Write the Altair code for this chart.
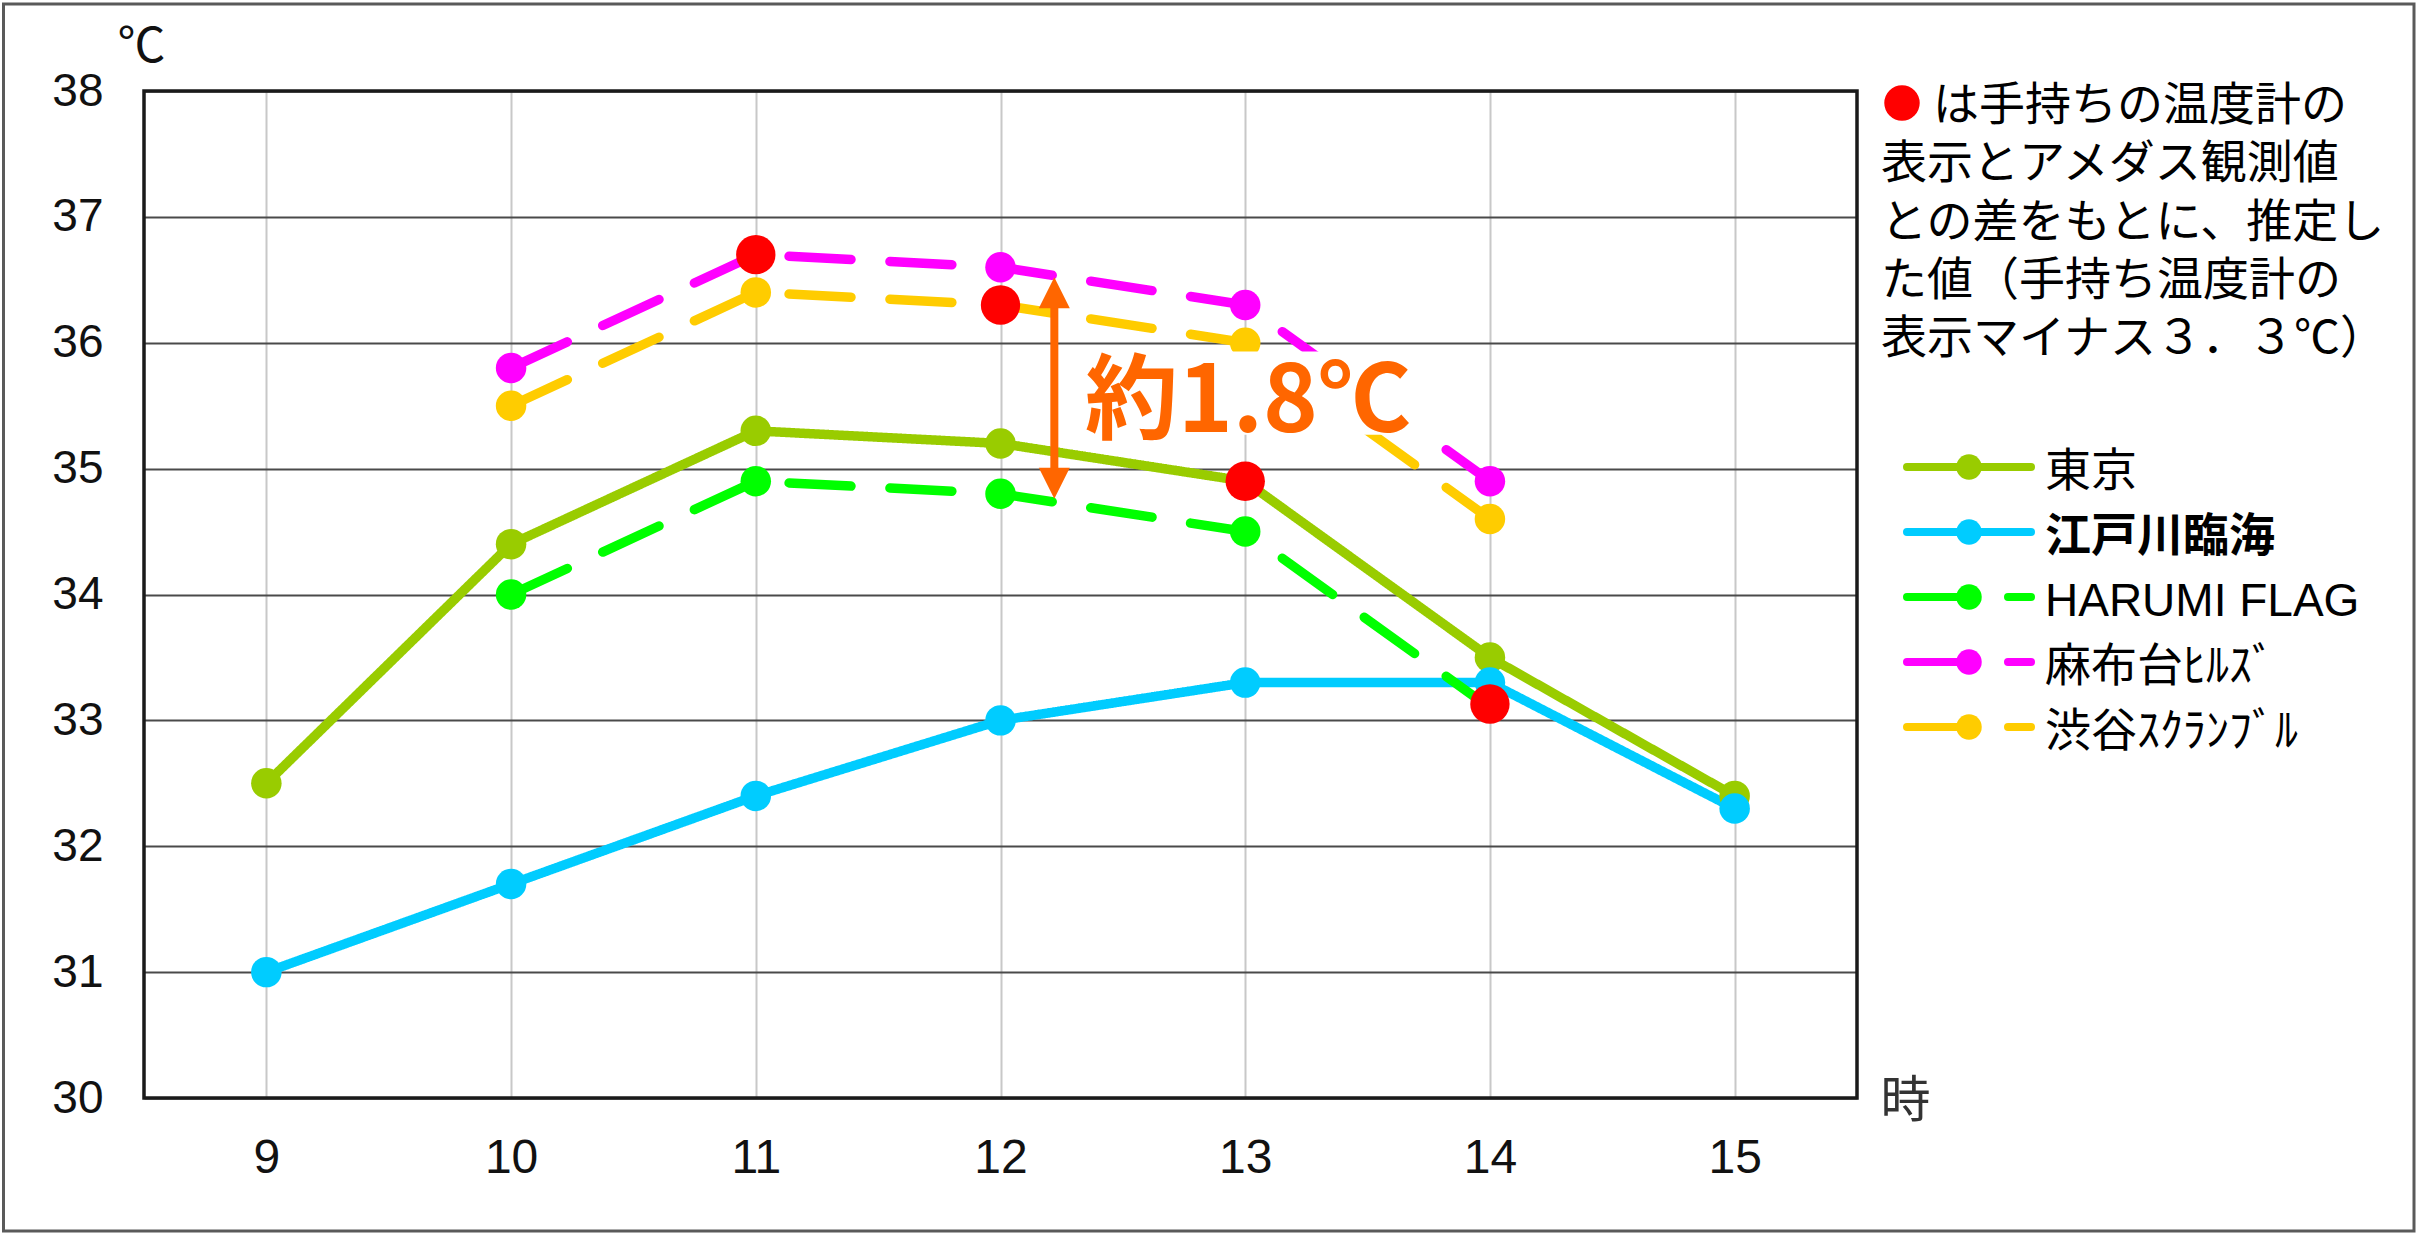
import altair as alt
import pandas as pd

# ---------------- data ----------------
hours = [9, 10, 11, 12, 13, 14, 15]
series_names = ["東京", "江戸川臨海", "HARUMI FLAG", "麻布台ﾋﾙｽﾞ", "渋谷ｽｸﾗﾝﾌﾞﾙ"]
series_colors = ["#99CC00", "#00CCFF", "#00FF00", "#FF00FF", "#FFCC00"]
series_dashes = [[1, 0], [1, 0], [62, 39], [62, 39], [62, 39]]
series_bold = [False, True, False, False, False]
tokyo = [32.5, 34.4, 35.3, 35.2, 34.9, 33.5, 32.4]
edogawa = [31.0, 31.7, 32.4, 33.0, 33.3, 33.3, 32.3]
harumi = [None, 34.0, 34.9, 34.8, 34.5, 33.1, None]
azabudai = [None, 35.8, 36.7, 36.6, 36.3, 34.9, None]
shibuya = [None, 35.5, 36.4, 36.3, 36.0, 34.6, None]

est_hours = [11, 12, 13, 14]
est_values = [36.7, 36.3, 34.9, 33.13]

y_ticks = [30, 31, 32, 33, 34, 35, 36, 37, 38]
x_grid = [9, 9.5, 10, 10.5, 11, 11.5, 12, 12.5, 13, 13.5, 14, 14.5, 15]
x_domain = [8.5, 15.5]
y_domain = [30, 38]

diff_label = ["約1.8℃"]
arrow_hour = [12.22]
arrow_top = [36.52]
arrow_bottom = [34.76]
label_hour = [12.345]
label_value = [35.29]
box_hours = [12.325, 13.745]
box_values = [35.27, 35.93]

note_lines = [
    "は手持ちの温度計の",
    "表示とアメダス観測値",
    "との差をもとに、推定し",
    "た値（手持ち温度計の",
    "表示マイナス３．３℃）",
]

# ---------------- layout / style ----------------
W, H = 1713, 1007
ORANGE = "#FF6600"
CJK = "Noto Sans CJK JP"
LAT = "Liberation Sans"
MIX = "Liberation Sans, Noto Sans CJK JP"
LW = 9.5

rows = []
for name, vals in zip(series_names, [tokyo, edogawa, harumi, azabudai, shibuya]):
    for h, v in zip(hours, vals):
        if v is not None:
            rows.append({"series": name, "hour": h, "temp": v})
df = pd.DataFrame(rows)
est_df = pd.DataFrame({"hour": est_hours, "temp": est_values})

color_scale = alt.Scale(domain=series_names, range=series_colors)
dash_scale = alt.Scale(domain=series_names, range=series_dashes)
xs = alt.Scale(domain=x_domain, nice=False, zero=False)
ys = alt.Scale(domain=y_domain, nice=False, zero=False)

x_axis = alt.Axis(
    values=x_grid, format="d",
    labelExpr="datum.value % 1 == 0 ? datum.label : ''",
    grid=True, gridColor="#c8c8c8", gridWidth=2,
    domain=False, ticks=False, tickSize=0,
    labelFont=LAT, labelFontSize=48, labelColor="#111",
    labelPadding=74, labelBaseline="alphabetic",
    labelFlush=False, labelOverlap=False,
    title="時", titleFont=CJK, titleFontSize=50, titleFontWeight="normal",
    titleColor="#333", titleX=1761, titleY=3, titleAlign="center",
    titleBaseline="middle", titleAngle=0,
)
y_axis = alt.Axis(
    values=y_ticks, format="d",
    grid=True, gridColor="#4a4a4a", gridWidth=2,
    domain=False, ticks=False, tickSize=0,
    labelFont=LAT, labelFontSize=46, labelColor="#111",
    labelPadding=41, labelBaseline="middle",
    labelFlush=False, labelOverlap=False,
    title="℃", titleFont=CJK, titleFontSize=48, titleFontWeight="normal",
    titleColor="#111", titleX=-3, titleY=-44, titleAlign="center",
    titleBaseline="middle", titleAngle=0,
)


def X(f):
    return alt.X(f, type="quantitative", scale=xs, axis=x_axis)


def Y(f):
    return alt.Y(f, type="quantitative", scale=ys, axis=y_axis)


lines = alt.Chart(df).mark_line(strokeWidth=LW, strokeCap="round", strokeJoin="round").encode(
    x=X("hour"), y=Y("temp"),
    color=alt.Color("series:N", scale=color_scale, legend=None),
    strokeDash=alt.StrokeDash("series:N", scale=dash_scale, legend=None),
)
points = alt.Chart(df).mark_point(filled=True, size=930, opacity=1, strokeWidth=0, shape="circle").encode(
    x=X("hour"), y=Y("temp"),
    color=alt.Color("series:N", scale=color_scale, legend=None),
)
est_points = alt.Chart(est_df).mark_point(filled=True, size=1550, opacity=1, strokeWidth=0,
                                          shape="circle", color="#FF0000").encode(
    x=X("hour"), y=Y("temp"),
)

# annotation: arrow, box, label
arrow_df = pd.DataFrame({"hour": arrow_hour, "top": arrow_top, "bottom": arrow_bottom})
shaft = alt.Chart(arrow_df).transform_calculate(
    t="datum.top - 0.15", b="datum.bottom + 0.15"
).mark_rule(color=ORANGE, strokeWidth=8).encode(x=X("hour"), y=Y("t"), y2="b:Q")
head_top = alt.Chart(arrow_df).mark_point(shape="M0,0L1,2L-1,2Z", size=961, filled=True,
                                          opacity=1, strokeWidth=0, color=ORANGE).encode(
    x=X("hour"), y=Y("top"))
head_bot = alt.Chart(arrow_df).mark_point(shape="M0,0L1,-2L-1,-2Z", size=961, filled=True,
                                          opacity=1, strokeWidth=0, color=ORANGE).encode(
    x=X("hour"), y=Y("bottom"))

box_df = pd.DataFrame({"x1": [box_hours[0]], "x2": [box_hours[1]],
                       "y1": [box_values[0]], "y2": [box_values[1]]})
box = alt.Chart(box_df).mark_rect(fill="white").encode(
    x=X("x1"), x2="x2:Q", y=Y("y1"), y2="y2:Q")
label_df = pd.DataFrame({"hour": label_hour, "temp": label_value, "txt": diff_label})
label = alt.Chart(label_df).mark_text(align="left", baseline="alphabetic", font=CJK,
                                      fontSize=93, fontWeight="bold", color=ORANGE).encode(
    x=X("hour"), y=Y("temp"), text="txt:N")

# plot border on top of grid
frame_df = pd.DataFrame({"k": [0]})
plot_frame = alt.Chart(frame_df).mark_rect(fillOpacity=0, stroke="#1a1a1a", strokeWidth=3.5).encode(
    x=alt.value(0), x2=alt.value(W), y=alt.value(0), y2=alt.value(H))
outer_frame = alt.Chart(frame_df).mark_rect(fillOpacity=0, stroke="#5a5a5a", strokeWidth=3).encode(
    x=alt.value(-140.5), x2=alt.value(2270), y=alt.value(-87), y2=alt.value(1140))

# custom legend
leg_df = pd.DataFrame({"series": series_names, "i": list(range(len(series_names))),
                       "bold": series_bold})
leg_base = alt.Chart(leg_df).transform_calculate(ly="376 + 65 * datum.i", ty="381 + 65 * datum.i")
leg_lines = leg_base.mark_rule(strokeWidth=8, strokeCap="round").encode(
    x=alt.value(1763), x2=alt.value(1887), y=alt.Y("ly:Q", scale=None),
    color=alt.Color("series:N", scale=color_scale, legend=None),
    strokeDash=alt.StrokeDash("series:N", scale=dash_scale, legend=None))
leg_pts = leg_base.mark_point(filled=True, size=650, opacity=1, strokeWidth=0, shape="circle").encode(
    x=alt.value(1825), y=alt.Y("ly:Q", scale=None),
    color=alt.Color("series:N", scale=color_scale, legend=None))
leg_txt = leg_base.transform_filter("!datum.bold").mark_text(
    align="left", baseline="middle", font=MIX, fontSize=46, color="#000").encode(
    x=alt.value(1901), y=alt.Y("ty:Q", scale=None), text="series:N")
leg_txt_b = leg_base.transform_filter("datum.bold").mark_text(
    align="left", baseline="middle", font=MIX, fontSize=46, fontWeight="bold", color="#000").encode(
    x=alt.value(1901), y=alt.Y("ty:Q", scale=None), text="series:N")

# note text at top right
note_df = pd.DataFrame({"txt": note_lines, "i": list(range(len(note_lines)))})
notes = alt.Chart(note_df).transform_calculate(
    nx="datum.i == 0 ? 1789 : 1737", ny="29 + 58.3 * datum.i"
).mark_text(align="left", baseline="alphabetic", font=CJK, fontSize=46, color="#000").encode(
    x=alt.X("nx:Q", scale=None), y=alt.Y("ny:Q", scale=None), text="txt:N")
note_dot = alt.Chart(frame_df).mark_point(filled=True, size=1257, opacity=1, strokeWidth=0,
                                          shape="circle", color="#FF0000").encode(
    x=alt.value(1758), y=alt.value(12))

chart = alt.layer(
    lines, points, est_points, shaft, head_top, head_bot, box, label,
    plot_frame, outer_frame, leg_lines, leg_pts, leg_txt, leg_txt_b, notes, note_dot,
).properties(
    width=W, height=H,
    autosize=alt.AutoSizeParams(type="none"),
    padding={"left": 144, "top": 91, "right": 560, "bottom": 137},
    background="white",
).configure_view(stroke=None)

chart.save("out.html", embed_options={"renderer": "svg", "actions": False})
